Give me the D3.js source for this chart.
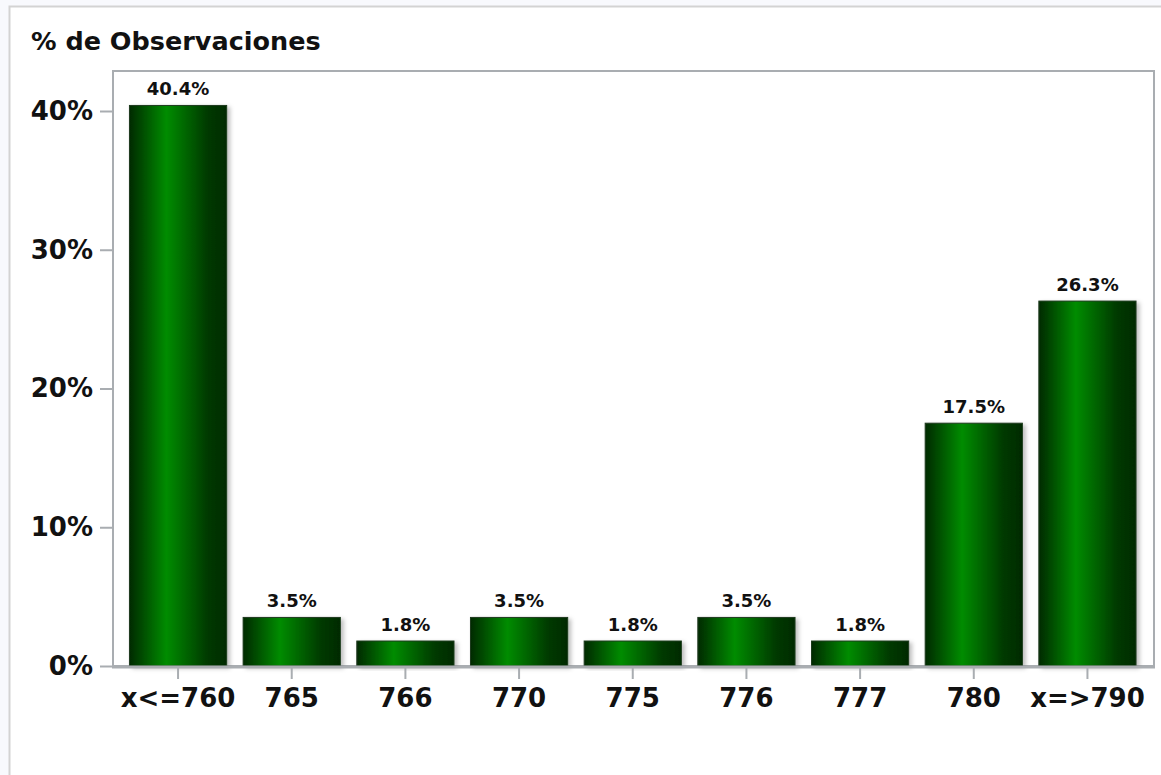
<!DOCTYPE html>
<html>
<head>
<meta charset="utf-8">
<script src="https://cdn.jsdelivr.net/npm/d3@7"></script>
<style>
  body { margin: 0; background: #f8f9fd; }
  svg { display: block; }
</style>
</head>
<body>
<svg id="chart" width="1161" height="775"></svg>
<script>
// categories and values
var categories = ["x<=760", "765", "766", "770", "775", "776", "777", "780", "x=>790"];
var values = [40.4, 3.5, 1.8, 3.5, 1.8, 3.5, 1.8, 17.5, 26.3];
var yTicks = [0, 10, 20, 30, 40];
var title = "% de Observaciones";

var svg = d3.select("#chart"),
    font = "'DejaVu Sans', sans-serif";

var margin = { left: 113, top: 71, right: 1154, bottom: 666 };

// page panel
svg.append("rect")
    .attr("x", 9.5).attr("y", 6.5)
    .attr("width", 1170).attr("height", 800)
    .style("fill", "#fff").style("stroke", "#d3d3d3").style("stroke-width", 2);

var defs = svg.append("defs");
var grad = defs.append("linearGradient")
    .attr("id", "barGrad").attr("x1", "0%").attr("x2", "100%").attr("y1", "0%").attr("y2", "0%");
grad.append("stop").attr("offset", "0%").attr("stop-color", "#002a00");
grad.append("stop").attr("offset", "38%").attr("stop-color", "#008c00");
grad.append("stop").attr("offset", "80%").attr("stop-color", "#003a00");
grad.append("stop").attr("offset", "100%").attr("stop-color", "#002a00");

var shadow = defs.append("filter").attr("id", "shadow")
    .attr("x", "-10%").attr("y", "-10%").attr("width", "130%").attr("height", "130%");
shadow.append("feDropShadow")
    .attr("dx", 3).attr("dy", 2).attr("stdDeviation", 2)
    .attr("flood-color", "#000").attr("flood-opacity", 0.25);

var x = d3.scaleBand()
    .domain(categories)
    .range([margin.left + 8.5, margin.right - 10])
    .paddingInner(0.145)
    .paddingOuter(0.07);

var y = d3.scaleLinear()
    .domain([0, 40])
    .range([margin.bottom, 111]);

// frame
svg.append("rect")
    .attr("x", margin.left).attr("y", margin.top)
    .attr("width", margin.right - margin.left).attr("height", margin.bottom - margin.top)
    .style("fill", "#fff").style("stroke", "#a9adb1").style("stroke-width", 2);

// title
svg.append("text")
    .attr("x", 31).attr("y", 50)
    .style("font-family", font).style("font-weight", "bold").style("font-size", "25.5px")
    .style("fill", "#111")
    .text(title);

// bars
svg.append("g").selectAll("rect")
    .data(values)
  .enter().append("rect")
    .attr("x", function(d, i) { return x(categories[i]); })
    .attr("y", function(d) { return y(d); })
    .attr("width", x.bandwidth())
    .attr("height", function(d) { return margin.bottom - y(d); })
    .style("fill", "url(#barGrad)")
    .style("stroke", "#1c3a1c").style("stroke-width", 1)
    .attr("filter", "url(#shadow)");

// value labels
svg.append("g").selectAll("text")
    .data(values)
  .enter().append("text")
    .attr("x", function(d, i) { return x(categories[i]) + x.bandwidth() / 2; })
    .attr("y", function(d) { return y(d) - 10; })
    .attr("text-anchor", "middle")
    .style("font-family", font).style("font-weight", "bold").style("font-size", "18px")
    .style("fill", "#111")
    .text(function(d) { return d.toFixed(1) + "%"; });

// y axis
var yAxis = svg.append("g")
    .attr("transform", "translate(" + margin.left + ",0)")
    .call(d3.axisLeft(y).tickValues(yTicks).tickSize(13).tickPadding(7)
        .tickFormat(function(d) { return d + "%"; }));
yAxis.select(".domain").remove();
yAxis.selectAll("line").style("stroke", "#a9adb1").style("stroke-width", 2);
yAxis.selectAll("text")
    .style("font-family", font).style("font-weight", "bold").style("font-size", "26px")
    .style("fill", "#111");

// x axis
var xAxis = svg.append("g")
    .attr("transform", "translate(0," + margin.bottom + ")")
    .call(d3.axisBottom(x).tickSize(13).tickPadding(10));
xAxis.select(".domain").remove();
xAxis.selectAll("line").style("stroke", "#a9adb1").style("stroke-width", 2);
xAxis.selectAll("text")
    .style("font-family", font).style("font-weight", "bold").style("font-size", "26px")
    .style("fill", "#111");

svg.append("line")
    .attr("x1", margin.left - 1).attr("x2", margin.right + 1)
    .attr("y1", margin.bottom + 1).attr("y2", margin.bottom + 1)
    .style("stroke", "#a9adb1").style("stroke-width", 3);
</script>
</body>
</html>
